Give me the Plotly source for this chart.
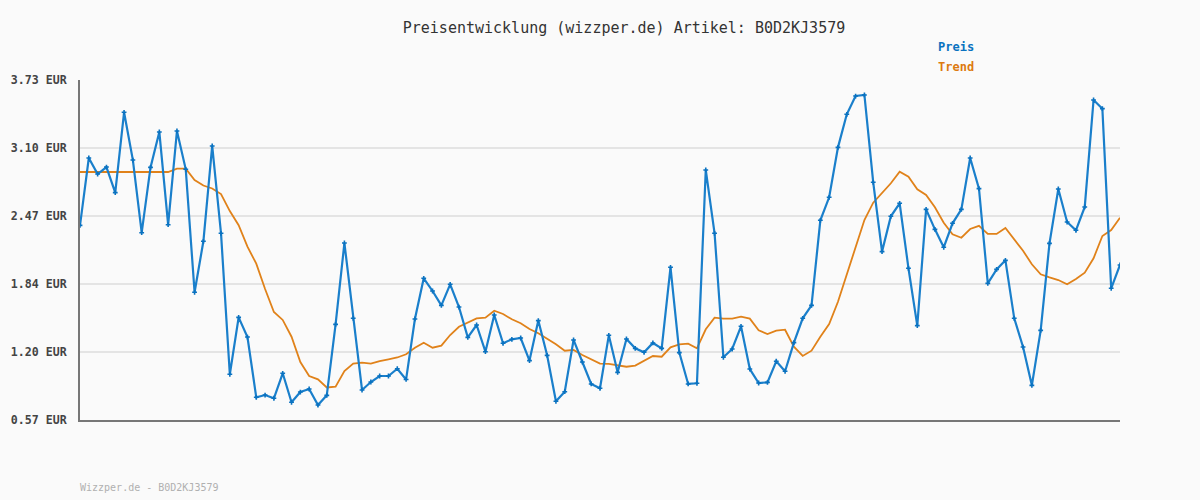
import plotly.graph_objects as go

title_text = "Preisentwicklung (wizzper.de) Artikel: B0D2KJ3579"
footer_text = "Wizzper.de - B0D2KJ3579"
series_names = ["Preis", "Trend"]
y_tick_values = [0.57, 1.202, 1.834, 2.466, 3.098, 3.73]
y_tick_labels = ["0.57 EUR", "1.20 EUR", "1.84 EUR", "2.47 EUR", "3.10 EUR", "3.73 EUR"]

preis = [
    2.379, 3.005, 2.856, 2.921, 2.683, 3.430, 2.986, 2.311, 2.918, 3.247,
    2.385, 3.256, 2.900, 1.757, 2.231, 3.117, 2.305, 0.995, 1.524, 1.341,
    0.781, 0.802, 0.772, 1.004, 0.735, 0.830, 0.858, 0.709, 0.799, 1.459,
    2.215, 1.515, 0.849, 0.923, 0.979, 0.979, 1.047, 0.947, 1.509, 1.887,
    1.769, 1.635, 1.831, 1.620, 1.338, 1.453, 1.205, 1.546, 1.283, 1.320,
    1.332, 1.122, 1.494, 1.171, 0.744, 0.833, 1.314, 1.109, 0.905, 0.865,
    1.357, 1.013, 1.323, 1.236, 1.199, 1.286, 1.236, 1.989, 1.196, 0.905,
    0.911, 2.894, 2.305, 1.153, 1.230, 1.441, 1.044, 0.914, 0.920, 1.116,
    1.023, 1.289, 1.515, 1.635, 2.426, 2.640, 3.104, 3.411, 3.581, 3.591,
    2.779, 2.135, 2.463, 2.584, 1.980, 1.447, 2.528, 2.342, 2.175, 2.398,
    2.528, 3.005, 2.720, 1.840, 1.970, 2.054, 1.515, 1.248, 0.892, 1.403,
    2.212, 2.717, 2.410, 2.333, 2.550, 3.544, 3.464, 1.794, 2.011,
]

trend = [
    2.875, 2.875, 2.875, 2.875, 2.875, 2.875, 2.875, 2.875, 2.875, 2.875,
    2.875, 2.906, 2.906, 2.801, 2.749, 2.722, 2.670, 2.512, 2.380, 2.181,
    2.023, 1.788, 1.574, 1.500, 1.344, 1.109, 0.979, 0.948, 0.872, 0.880,
    1.025, 1.095, 1.103, 1.094, 1.118, 1.134, 1.151, 1.181, 1.242, 1.288,
    1.242, 1.261, 1.360, 1.437, 1.474, 1.515, 1.521, 1.586, 1.555, 1.506,
    1.469, 1.416, 1.376, 1.329, 1.274, 1.214, 1.221, 1.174, 1.134, 1.094,
    1.091, 1.081, 1.065, 1.075, 1.118, 1.165, 1.158, 1.246, 1.272, 1.279,
    1.236, 1.413, 1.521, 1.512, 1.512, 1.530, 1.512, 1.404, 1.369, 1.400,
    1.409, 1.251, 1.165, 1.214, 1.344, 1.462, 1.669, 1.918, 2.166, 2.429,
    2.590, 2.677, 2.770, 2.878, 2.831, 2.714, 2.661, 2.547, 2.404, 2.296,
    2.264, 2.345, 2.375, 2.299, 2.299, 2.354, 2.249, 2.143, 2.017, 1.924,
    1.896, 1.871, 1.831, 1.880, 1.939, 2.073, 2.280, 2.336, 2.450,
]

x_idx = list(range(len(preis)))

BLUE = "#1a7fcb"
ORANGE = "#e0821a"
MONO = "DejaVu Sans Mono, Liberation Mono, monospace"

fig = go.Figure()
fig.add_trace(go.Scatter(
    x=x_idx, y=trend, mode="lines", name=series_names[1],
    line=dict(color=ORANGE, width=1.8),
))
fig.add_trace(go.Scatter(
    x=x_idx, y=preis, mode="lines+markers", name=series_names[0],
    line=dict(color=BLUE, width=2.2),
    marker=dict(symbol="cross", size=4, color="#0a72c0"),
))

fig.update_layout(
    width=1200, height=500,
    margin=dict(l=80, r=80, t=80, b=80, autoexpand=False),
    paper_bgcolor="#fafafa", plot_bgcolor="#fafafa",
    showlegend=False,
    title=dict(text=title_text, x=0.52, xanchor="center", y=0.944, yanchor="middle",
               font=dict(family=MONO, size=15, color="#333333")),
    xaxis=dict(range=[0, len(preis) - 1], showgrid=False, zeroline=False,
               showticklabels=False, ticks="", showline=True, linecolor="#777777",
               linewidth=2, automargin=False),
    yaxis=dict(range=[0.57, 3.73], tickvals=y_tick_values, ticktext=y_tick_labels,
               showgrid=True, gridcolor="#e4e4e4", gridwidth=2, zeroline=False,
               showline=True, linecolor="#777777", linewidth=2, ticks="",
               ticklabelstandoff=9, automargin=False,
               tickfont=dict(family=MONO, size=11.6, color="#444444", weight="bold")),
    annotations=[
        dict(text="<b>" + series_names[0] + "</b>", x=976, y=47, xref="paper", yref="paper",
             showarrow=False, font=dict(family=MONO, size=12, color="#0a72c0"),
             xanchor="right", yanchor="middle"),
        dict(text="<b>" + series_names[1] + "</b>", x=976, y=67, xref="paper", yref="paper",
             showarrow=False, font=dict(family=MONO, size=12, color="#dd7a10"),
             xanchor="right", yanchor="middle"),
        dict(text=footer_text, x=78, y=487, xref="paper", yref="paper",
             showarrow=False, font=dict(family=MONO, size=10, color="#b0b0b0"),
             xanchor="left", yanchor="middle"),
    ],
)

# convert pixel-placed annotation positions into paper coordinates
pw, ph = 1200 - 160, 500 - 160
for a in fig.layout.annotations:
    a.x = (a.x - 80) / pw
    a.y = 1 - (a.y - 80) / ph

fig.write_html("out.html", config={"displayModeBar": False},
               post_script="document.body.style.margin='0';document.body.style.background='#fafafa';")
